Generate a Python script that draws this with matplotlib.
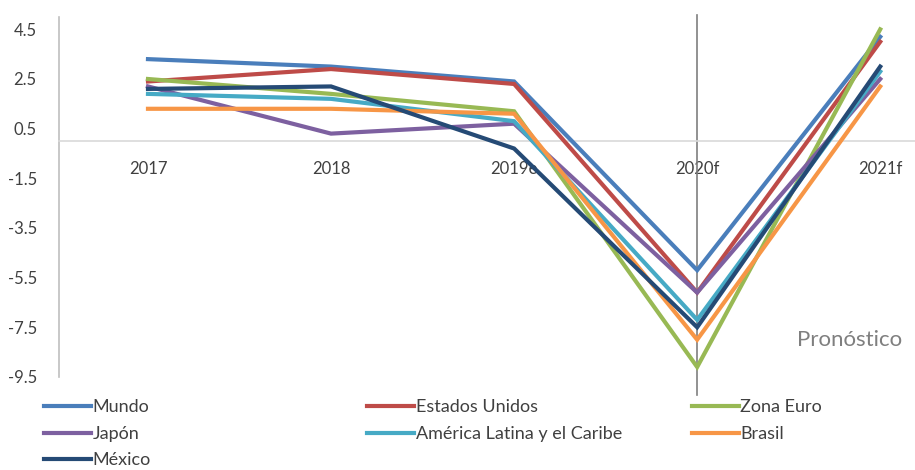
import matplotlib

matplotlib.use("Agg")
import matplotlib.pyplot as plt
import numpy as np

plt.rcParams["font.family"] = ["Lato", "DejaVu Sans"]

years = ["2017", "2018", "2019e", "2020f", "2021f"]
mundo = [3.3, 3.0, 2.4, -5.2, 4.2]
estados_unidos = [2.4, 2.9, 2.3, -6.1, 4.0]
zona_euro = [2.5, 1.9, 1.2, -9.1, 4.5]
japon = [2.2, 0.3, 0.7, -6.1, 2.5]
america_latina = [1.9, 1.7, 0.8, -7.2, 2.8]
brasil = [1.3, 1.3, 1.1, -8.0, 2.2]
mexico = [2.1, 2.2, -0.3, -7.5, 3.0]

series = [
    ("Mundo", mundo, "#4A7EBB"),
    ("Estados Unidos", estados_unidos, "#BE4B48"),
    ("Zona Euro", zona_euro, "#98B954"),
    ("Japón", japon, "#7D60A0"),
    ("América Latina y el Caribe", america_latina, "#46AAC5"),
    ("Brasil", brasil, "#F79646"),
    ("México", mexico, "#254A75"),
]

fig = plt.figure(figsize=(9.15, 4.7), dpi=100)
ax = fig.add_axes([0.0645, 0.198, 0.9355, 0.766])

x = np.arange(len(years))
lines = {}
for name, values, color in series:
    (ln,) = ax.plot(x, values, color=color, lw=3.0, solid_joinstyle="miter",
                    label=name, zorder=3)
    lines[name] = ln

ax.set_xlim(-0.486, 4.19)
ax.set_ylim(-9.5, 5.0)
yt = np.arange(-9.5, 4.6, 2.0)
ax.set_yticks(yt, [f"{v:.1f}" for v in yt])
ax.set_xticks(x, years)

for side in ("top", "right"):
    ax.spines[side].set_visible(False)
ax.spines["bottom"].set_position(("data", 0))
ax.spines["bottom"].set_color("#D9D9D9")
ax.spines["bottom"].set_linewidth(1.2)
ax.spines["left"].set_color("#BFBFBF")
ax.spines["left"].set_linewidth(1.2)
ax.tick_params(axis="both", length=0, labelsize=12, colors="#404040")
ax.tick_params(axis="x", pad=14)
ax.tick_params(axis="y", pad=16)

# forecast divider
ax.axvline(3, ymin=-0.05, ymax=1.006, color="#7F7F7F", lw=1.2, clip_on=False, zorder=2)
ax.text(4.12, -8.0, "Pronóstico", fontsize=16, color="#7F7F7F", ha="right", va="center")

columns = [
    (["Mundo", "Japón", "México"], 0.048),
    (["Estados Unidos", "América Latina y el Caribe"], 0.401),
    (["Zona Euro", "Brasil"], 0.756),
]
for names, xpos in columns:
    fig.legend(
        [lines[n] for n in names],
        names,
        loc="upper left",
        bbox_to_anchor=(xpos, 0.150),
        frameon=False,
        fontsize=13,
        handlelength=2.6,
        handletextpad=0.1,
        labelspacing=0.58,
        borderpad=0,
        borderaxespad=0,
        labelcolor="#404040",
    )

fig.savefig("out.png", dpi=100)
